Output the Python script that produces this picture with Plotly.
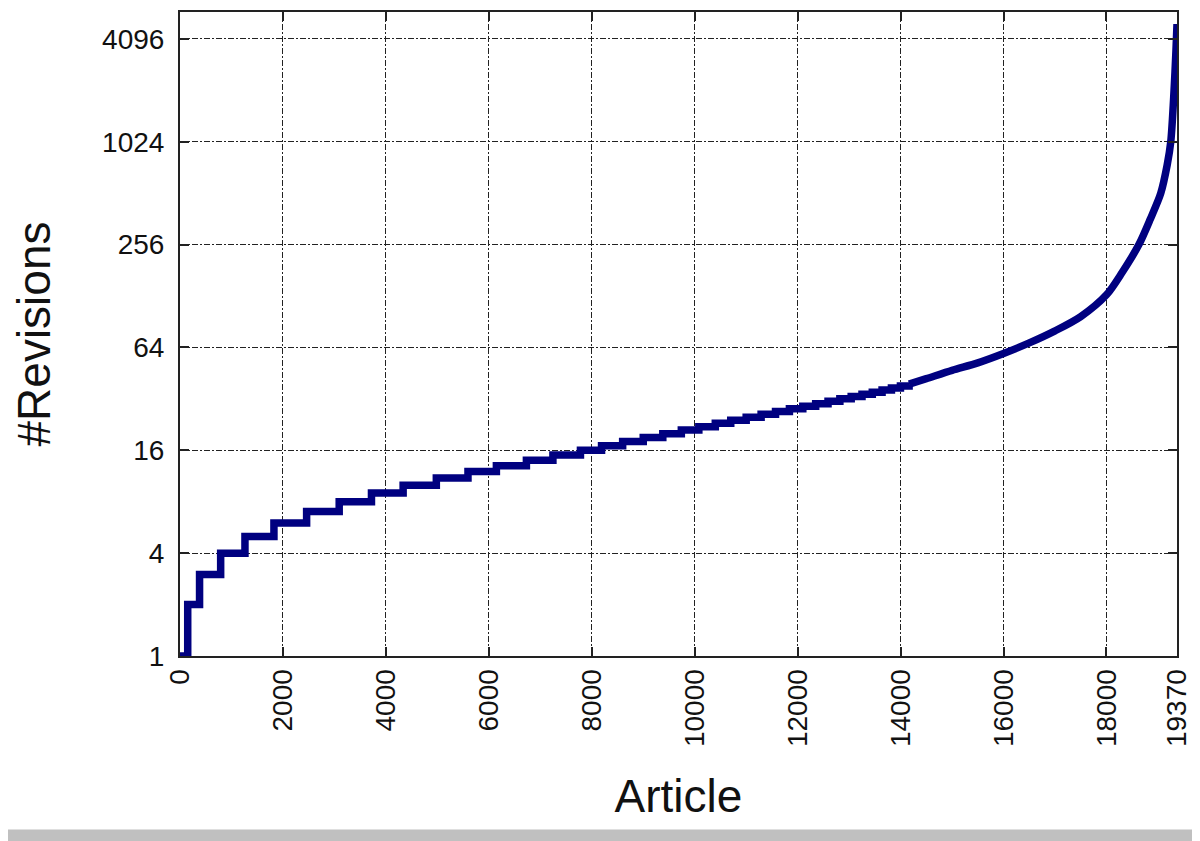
import plotly.graph_objects as go
import math

# Step region: revision count and first article (sorted order) having that count
revision_levels = list(range(1, 40))
level_start_article = [0, 150, 380, 790, 1262, 1825, 2460, 3093, 3720, 4335,
                       4980, 5595, 6147, 6730, 7245, 7780, 8190, 8600, 9000, 9380,
                       9740, 10080, 10400, 10700, 11000, 11290, 11570, 11840, 12100, 12350,
                       12590, 12820, 13040, 13250, 13450, 13640, 13822, 13997, 14165]

# Tail region
tail_article = [14165, 14500, 15000, 15500, 16000, 16500, 17000, 17500, 18000,
                18300, 18630, 18850, 19055, 19180, 19249, 19313, 19350, 19370]
tail_revisions = [39, 42, 47, 52, 59, 68, 80, 97, 130,
                  175, 256, 360, 512, 750, 1024, 2048, 3500, 5000]

x_tickvals = [0, 2000, 4000, 6000, 8000, 10000, 12000, 14000, 16000, 18000, 19370]
y_tickvals = [1, 4, 16, 64, 256, 1024, 4096]

LINE_COLOR = "#000080"
FONT = "Liberation Sans, Arial, sans-serif"

fig = go.Figure()
fig.add_trace(go.Scatter(x=level_start_article, y=revision_levels, mode="lines",
                         line=dict(color=LINE_COLOR, width=7.5, shape="hv"),
                         showlegend=False))
fig.add_trace(go.Scatter(x=tail_article, y=tail_revisions, mode="lines",
                         line=dict(color=LINE_COLOR, width=7.5, shape="spline", smoothing=0.8),
                         showlegend=False))

grid_style = dict(showgrid=True, gridcolor="#222222", gridwidth=1, griddash="6px,2px,2px,2px")
axis_common = dict(showline=True, linecolor="#222222", linewidth=2, mirror="allticks",
                   ticks="inside", ticklen=9, tickwidth=2, tickcolor="#222222",
                   zeroline=False, tickfont=dict(family=FONT, size=28, color="#111111"))

fig.update_xaxes(range=[0, 19370], tickvals=x_tickvals,
                 ticktext=[str(v) for v in x_tickvals], tickangle=-90,
                 title=dict(text="Article", font=dict(family=FONT, size=46, color="#111111"), standoff=34),
                 **grid_style, **axis_common)
fig.update_yaxes(type="log", range=[0, math.log10(5880)], tickvals=y_tickvals,
                 ticktext=[str(v) for v in y_tickvals], ticklabelstandoff=8,
                 title=dict(text="#Revisions", font=dict(family=FONT, size=46, color="#111111"), standoff=44),
                 **grid_style, **axis_common)

fig.add_shape(type="rect", xref="paper", yref="paper", x0=-0.3, x1=1.1,
              y0=-0.30, y1=-0.2693, fillcolor="#c0c0c0", line=dict(width=0), layer="below")

fig.update_layout(width=1192, height=833, plot_bgcolor="white", paper_bgcolor="white",
                  margin=dict(l=172, r=23, t=2, b=185), showlegend=False)

fig.write_html("out.html")
